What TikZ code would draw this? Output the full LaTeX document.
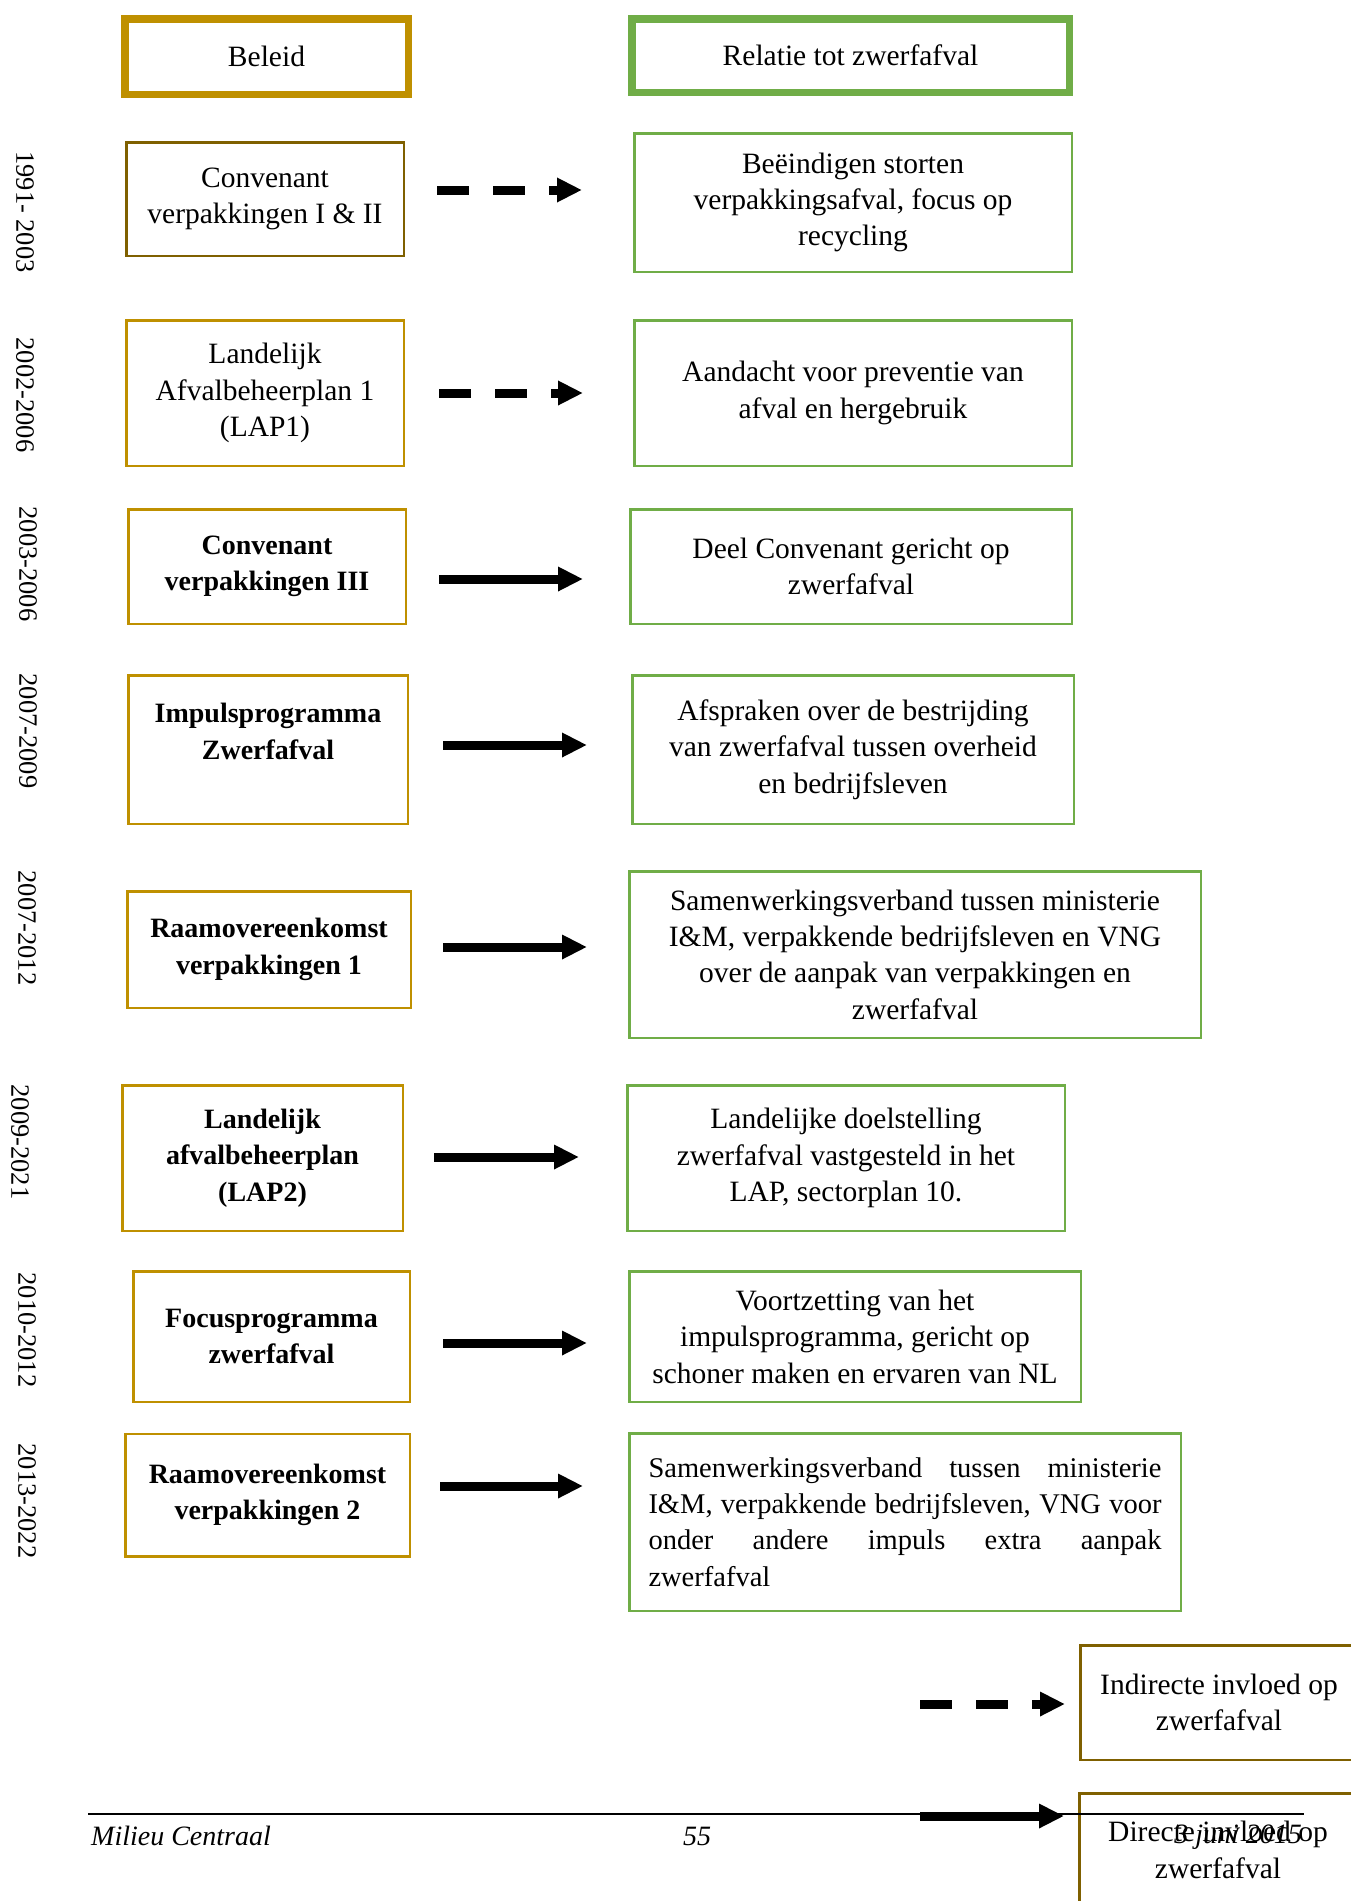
\documentclass[tikz,border=0pt]{standalone}
\usepackage{fontspec}
\setmainfont{Liberation Serif}
\usetikzlibrary{arrows.meta}
\definecolor{goud}{HTML}{BF9000}
\definecolor{bruin}{HTML}{7F6000}
\definecolor{groen}{HTML}{70AD47}
\begin{document}
\begin{tikzpicture}[x=1pt,y=-1pt,
    every node/.style={font=\fontsize{29.5}{36.4}\selectfont, inner sep=0pt, align=center},
    maat/.style 2 args={minimum width=#1pt, minimum height=#2pt},
    beleid/.style={draw=goud, line width=2.5pt},
    vet/.style={beleid, font=\fontsize{28}{36.4}\selectfont\bfseries},
    indirect/.style={draw=bruin, line width=2.5pt},
    relatie/.style={draw=groen, line width=2.5pt},
    jaar/.style={font=\fontsize{26.5}{30}\selectfont, rotate=-90},
    voet/.style={font=\fontsize{28}{30}\selectfont\itshape},
    pijl/.style={line width=9pt, -{Triangle[length=25pt,width=23pt]}},
    stippel/.style={pijl, dash pattern=on 32pt off 24pt}]
    \useasboundingbox (0,0) rectangle (1351,1901);
    \clip (0,0) rectangle (1351,1901);
    % Kopjes
    \node[draw=goud, line width=7.5pt, maat={283.5}{75.5}] (kopL) at (266.5,56.5) {Beleid};
    \node[draw=groen, line width=7.5pt, maat={437.5}{73.5}] (kopR) at (850.5,55.5) {Relatie tot zwerfafval};
    % Jaartallen
    \foreach \x/\y/\periode in {25/212/{1991- 2003},25/395/{2002-2006},28/564/{2003-2006},28/731/{2007-2009},
        27/928/{2007-2012},20/1142/{2009-2021},27/1330/{2010-2012},27/1501/{2013-2022}}{
      \node[jaar] at (\x,\y) {\periode};
    }
    % Beleid
    \node[indirect, maat={277.5}{113.5}] (l1) at (265,199) {Convenant\\verpakkingen I \& II};
    \node[beleid, maat={277.5}{145.5}] (l2) at (265,393) {Landelijk\\Afvalbeheerplan 1\\(LAP1)};
    \node[vet, maat={277.5}{114.5}] (l3) at (267,566.5) {Convenant\\verpakkingen III};
    \node[vet, maat={279.5}{148.5}] (l4) at (268,749.5) {Impulsprogramma\\Zwerfafval\\\mbox{}};
    \node[vet, maat={283.5}{116.5}] (l5) at (269,949.5) {Raamovereenkomst\\verpakkingen 1};
    \node[vet, maat={280.5}{145.5}] (l6) at (262.5,1158) {Landelijk\\afvalbeheerplan\\(LAP2)};
    \node[vet, maat={276.5}{130.5}] (l7) at (271.5,1336.5) {Focusprogramma\\zwerfafval};
    \node[vet, maat={284.5}{122.5}] (l8) at (267.5,1495) {Raamovereenkomst\\verpakkingen 2};
    % Relatie tot zwerfafval
    \node[relatie, maat={437.5}{138.5}] (r1) at (853,202.5) {Beëindigen storten\\verpakkingsafval, focus op\\recycling};
    \node[relatie, maat={437.5}{145.5}] (r2) at (853,393) {Aandacht voor preventie van\\afval en hergebruik};
    \node[relatie, maat={441.5}{114.5}] (r3) at (851,566.5) {Deel Convenant gericht op\\zwerfafval};
    \node[relatie, maat={441.5}{148.5}] (r4) at (853,749.5) {Afspraken over de bestrijding\\van zwerfafval tussen overheid\\en bedrijfsleven};
    \node[relatie, maat={571.5}{166.5}] (r5) at (915,954.5) {Samenwerkingsverband tussen ministerie\\I\&M, verpakkende bedrijfsleven en VNG\\over de aanpak van verpakkingen en\\zwerfafval};
    \node[relatie, maat={437.5}{145.5}] (r6) at (846,1158) {Landelijke doelstelling\\zwerfafval vastgesteld in het\\LAP, sectorplan 10.};
    \node[relatie, maat={451.5}{130.5}] (r7) at (855,1336.5) {Voortzetting van het\\impulsprogramma, gericht op\\schoner maken en ervaren van NL};
    \node[relatie, maat={551.5}{177.5}, text width=513pt, align=justify, font=\fontsize{28.5}{36.4}\selectfont] (r8) at (905,1522) {Samenwerkingsverband tussen ministerie\linebreak I\&M, verpakkende bedrijfsleven, VNG voor\linebreak onder andere impuls extra aanpak\linebreak zwerfafval};
    % Pijlen
    \foreach \i/\y/\xa/\xb/\soort in {1/190/437/582/stippel,2/393/439/583/stippel,3/579/439/583/pijl,4/745/443/587/pijl,
        5/947/443/587/pijl,6/1157/434/579/pijl,7/1343/443/587/pijl,8/1486/440/583/pijl}{
      \coordinate (a\i) at (\xa,\y);
      \coordinate (b\i) at (\xb,\y);
      \draw[\soort] (a\i) -- (b\i);
    }
    % Legenda
    \node[indirect, maat={277.5}{114.5}] (leg1) at (1219,1702.5) {Indirecte invloed op\\zwerfafval};
    \node[indirect, maat={277.5}{113.5}] (leg2) at (1218,1850) {Directe invloed op\\zwerfafval};
    \coordinate (la1) at (920,1704);
    \coordinate (la2) at (920,1816);
    \draw[stippel, shorten >=14pt] (la1) -- (la1 -| leg1.west);
    \draw[pijl, shorten >=14pt] (la2) -- (la2 -| leg2.west);
    % Voettekst
    \draw[line width=2.5pt] (88,1814) -- (1304,1814);
    \node[voet, anchor=base west] (bron) at (91,1845) {Milieu Centraal};
    \node[voet, anchor=base] (pagina) at (697,1845) {55};
    \node[voet, anchor=base east] (datum) at (1302,1843) {3 juni 2015};
\end{tikzpicture}
\end{document}
